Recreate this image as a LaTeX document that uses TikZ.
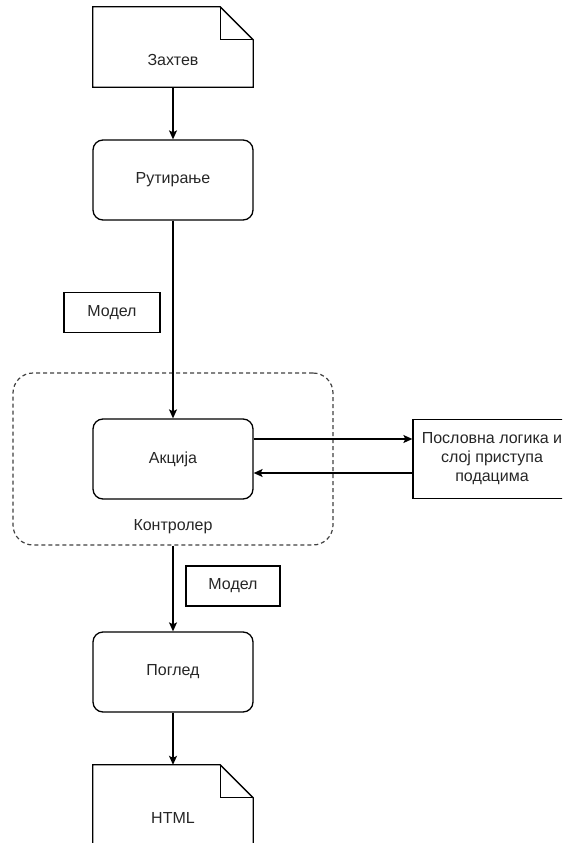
\documentclass[tikz,border=0pt]{standalone}
\usepackage{fontspec}
\setmainfont{Liberation Sans}
\usetikzlibrary{arrows.meta}
\begin{document}
\begin{tikzpicture}[x=1pt,y=-1pt,
  every node/.style={font=\fontsize{16}{19}\selectfont, text=black!85, inner sep=0pt},
  line/.style={draw=black, line width=1.3pt},
  flow/.style={line, -{Stealth[length=9pt,width=8pt,inset=2pt]}},
  proc/.style={line, rounded corners=10pt, minimum width=160pt, minimum height=80pt},
  plainbox/.style={line, minimum height=40pt},
  docarea/.style={minimum width=160pt, minimum height=80pt},
  group/.style={draw=black!75, line width=1.2pt, dash pattern=on 4pt off 3pt,
    rounded corners=20pt, minimum width=320pt, minimum height=172pt}]
\useasboundingbox (0,0) rectangle (562,843);
\clip (0,0) rectangle (562,843);

% controller group behind the action step
\node[group] (ctrl) at (173,459) {};
\node (ctrllabel) at (173,527) {Контролер};

% request document with folded corner
\node[docarea] (req) at (173,47) {};
\draw[line, line join=miter] (req.north west) -- ([xshift=-33pt]req.north east)
  -- ([yshift=-33pt]req.north east) -- (req.south east) -- (req.south west) -- cycle;
\draw[line] ([xshift=-33pt]req.north east) |- ([yshift=-33pt]req.north east);
\node (reqtext) at (173,60) {Захтев};

% processing steps
\node[proc] (route) at (173,180) {Рутирање};
\node[proc] (action) at (173,459) {Акција};
\node[proc] (view) at (173,672) {Поглед};

% model labels
\node[plainbox, minimum width=96pt] (m1) at (112,312.5) {Модел};
\node[plainbox, minimum width=94pt] (m2) at (233,586) {Модел};

% business logic and data access
\node[line, minimum width=158pt, minimum height=79pt, align=center] (biz) at (492,459)
  {Пословна логика и\\слој приступа\\подацима};

% response document with folded corner
\node[docarea] (html) at (173,805) {};
\draw[line, line join=miter] (html.north west) -- ([xshift=-33pt]html.north east)
  -- ([yshift=-33pt]html.north east) -- (html.south east) -- (html.south west) -- cycle;
\draw[line] ([xshift=-33pt]html.north east) |- ([yshift=-33pt]html.north east);
\node (htmltext) at (173,818) {HTML};

% connectors
\draw[flow] (req.south) -- (route.north);
\draw[flow] (route.south) -- (action.north);
\draw[flow] ([yshift=20pt]action.east) -- ([yshift=20pt]action.east -| biz.west);
\draw[flow] ([yshift=-14pt]action.east -| biz.west) -- ([yshift=-14pt]action.east);
\draw[flow] (ctrl.south) -- (view.north);
\draw[flow] (view.south) -- (html.north);
\end{tikzpicture}
\end{document}
